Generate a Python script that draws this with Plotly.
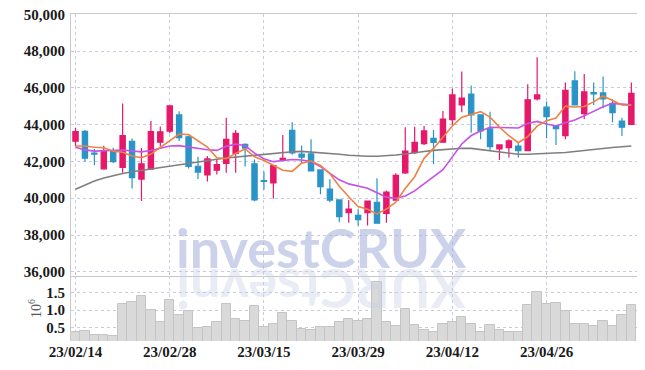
import plotly.graph_objects as go

dates = [
    "23/02/14", "23/02/15", "23/02/16", "23/02/17", "23/02/20", "23/02/21", "23/02/22", "23/02/23", "23/02/24", "23/02/27",
    "23/02/28", "23/03/02", "23/03/03", "23/03/06", "23/03/07", "23/03/08", "23/03/09", "23/03/10", "23/03/13", "23/03/14",
    "23/03/15", "23/03/16", "23/03/17", "23/03/20", "23/03/21", "23/03/22", "23/03/23", "23/03/24", "23/03/27", "23/03/28",
    "23/03/29", "23/03/30", "23/03/31", "23/04/03", "23/04/04", "23/04/05", "23/04/06", "23/04/07", "23/04/10", "23/04/11",
    "23/04/12", "23/04/13", "23/04/14", "23/04/17", "23/04/18", "23/04/19", "23/04/20", "23/04/21", "23/04/24", "23/04/25",
    "23/04/26", "23/04/27", "23/04/28", "23/05/02", "23/05/03", "23/05/04", "23/05/08", "23/05/09", "23/05/10", "23/05/11",
]

open_ = [43100, 43635, 42450, 41600, 42590, 41670, 43090, 41040, 41580, 43050,
         43650, 44530, 43340, 41740, 41270, 41525, 41890, 42435, 42930, 41870,
         40960, 40830, 42090, 43690, 42400, 42410, 41540, 40500, 39910, 39210,
         39070, 39210, 39780, 39180, 39890, 41380, 42480, 42970, 43260, 43050,
         44270, 45075, 45670, 44530, 43770, 42680, 42750, 42840, 42590, 45400,
         44950, 43930, 43400, 46380, 44600, 45745, 45730, 45165, 44200, 44020]
high = [43840, 43710, 42680, 42850, 42750, 45150, 43250, 42730, 44200, 43900,
        45060, 44730, 43400, 42250, 42290, 42140, 44380, 43710, 42990, 42100,
        41450, 41780, 43440, 44130, 42870, 43210, 41560, 41030, 39920, 39900,
        39400, 39870, 41080, 40420, 41360, 43860, 43890, 43930, 43710, 44750,
        45950, 46890, 46130, 44550, 44710, 42920, 43210, 42990, 46200, 47670,
        45260, 44000, 46290, 46910, 46750, 46290, 46620, 45390, 44380, 46290]
low = [42830, 41990, 41790, 41550, 41920, 41380, 40535, 39850, 41550, 42820,
       43530, 43110, 41620, 41050, 40910, 41290, 41380, 41380, 41720, 39840,
       40460, 39970, 42080, 42370, 41900, 41450, 40210, 39780, 38690, 38670,
       38500, 38510, 38620, 38670, 39880, 41320, 42400, 42900, 41850, 43040,
       44000, 44680, 43560, 43210, 42590, 42080, 42210, 42210, 42580, 45310,
       43260, 42900, 43210, 45050, 44310, 45075, 44890, 44130, 43390, 44000]
close = [43620, 42175, 42400, 42590, 41990, 43400, 41125, 41870, 43620, 43610,
         45030, 43300, 41730, 41420, 42140, 41830, 43200, 43530, 42730, 39910,
         40920, 41780, 42170, 42460, 42230, 41480, 40630, 39900, 39000, 39410,
         38830, 39850, 38640, 40340, 41250, 42560, 43040, 43660, 43030, 44300,
         45620, 45440, 44530, 43660, 42810, 42900, 43115, 42590, 45350, 45620,
         44440, 43790, 45870, 45075, 45780, 45675, 45400, 44655, 43860, 45710]

ma5 = [42840, 42840, 42770, 42750, 42560, 42500, 42300, 42200, 42400, 42780,
       43120, 43490, 43460, 43100, 42780, 42200, 42150, 42440, 42680, 42250,
       42050, 41790, 41520, 41460, 41910, 42020, 41790, 41340, 40650, 40080,
       39550, 39400, 39150, 39410, 39780, 40530, 41170, 42170, 42710, 43320,
       43930, 44410, 44580, 44710, 44410, 43870, 43400, 43020, 43350, 43920,
       44220, 44360, 45010, 44960, 44990, 45240, 45560, 45320, 45070, 45060]
ma20 = [42770, 42630, 42560, 42570, 42600, 42620, 42570, 42520, 42600, 42740,
        42840, 42860, 42780, 42720, 42640, 42600, 42820, 42950, 42860, 42450,
        42150, 41990, 42040, 42110, 42080, 42000, 41720, 41360, 41000, 40780,
        40660, 40540, 40300, 40060, 40000, 40120, 40400, 40780, 41170, 41550,
        42250, 42950, 43410, 43660, 43860, 43850, 43850, 43820, 44070, 44180,
        44040, 43930, 44100, 44260, 44480, 44720, 44970, 45160, 45100, 45075]
ma60 = [40490, 40720, 40940, 41100, 41240, 41350, 41440, 41520, 41600, 41680,
        41750, 41830, 41900, 41980, 42050, 42120, 42190, 42240, 42300, 42350,
        42400, 42460, 42500, 42530, 42550, 42520, 42480, 42440, 42390, 42340,
        42300, 42280, 42280, 42300, 42350, 42410, 42490, 42540, 42600, 42650,
        42700, 42720, 42710, 42650, 42600, 42520, 42450, 42390, 42390, 42410,
        42420, 42450, 42490, 42540, 42600, 42650, 42700, 42760, 42800, 42840]

volume = [0.37, 0.40, 0.28, 0.28, 0.25, 1.17, 1.23, 1.40, 1.00, 0.65,
          1.28, 0.85, 0.97, 0.48, 0.53, 0.65, 1.17, 0.74, 0.68, 1.11,
          0.52, 0.62, 0.91, 0.68, 0.45, 0.43, 0.51, 0.53, 0.67, 0.74,
          0.68, 0.74, 1.80, 0.65, 0.54, 1.03, 0.57, 0.43, 0.37, 0.62,
          0.65, 0.80, 0.60, 0.37, 0.57, 0.43, 0.37, 0.37, 1.14, 1.51,
          1.17, 1.20, 0.97, 0.62, 0.62, 0.54, 0.68, 0.54, 0.85, 1.14]

x_tick_labels = ["23/02/14", "23/02/28", "23/03/15", "23/03/29", "23/04/12", "23/04/26"]
price_ticks = [36000, 38000, 40000, 42000, 44000, 46000, 48000, 50000]
volume_ticks = [0.5, 1.0, 1.5]

UP = "#e6186a"
DOWN = "#2b94c7"
GRID = "#c9cade"
FONT = "Liberation Sans Narrow"
TICKFONT = dict(family=FONT, size=15, color="#1a1a1a", weight="bold")

fig = go.Figure()

fig.add_trace(go.Bar(
    x=dates, y=volume, xaxis="x2", yaxis="y2",
    marker=dict(color="#d9d9d9", line=dict(color="#c4c4c4", width=1)),
    showlegend=False,
))

fig.add_trace(go.Scatter(x=dates, y=ma60, mode="lines", line=dict(color="#7f7f7f", width=1.6),
                         showlegend=False))
fig.add_trace(go.Scatter(x=dates, y=ma20, mode="lines", line=dict(color="#c452e6", width=1.6),
                         showlegend=False))
fig.add_trace(go.Scatter(x=dates, y=ma5, mode="lines", line=dict(color="#ee8245", width=1.6),
                         showlegend=False))

fig.add_trace(go.Candlestick(
    x=dates, open=open_, high=high, low=low, close=close,
    increasing=dict(line=dict(color=UP, width=1.2), fillcolor=UP),
    decreasing=dict(line=dict(color=DOWN, width=1.2), fillcolor=DOWN),
    whiskerwidth=0, showlegend=False,
))

split = 65 / 327

fig.update_layout(
    width=637, height=362,
    margin=dict(l=63, r=8, t=6, b=29),
    paper_bgcolor="white", plot_bgcolor="white",
    bargap=0, boxgap=0.2,
    showlegend=False,
    xaxis=dict(
        type="category", domain=[0, 1], anchor="y", range=[-0.48, 59.6],
        rangeslider=dict(visible=False), automargin=False,
        tickmode="array", tickvals=x_tick_labels, showticklabels=False,
        showgrid=True, gridcolor=GRID, griddash="dot", gridwidth=1,
        showline=True, linecolor="#c8c8c8", linewidth=1, mirror=True,
        zeroline=False,
    ),
    yaxis=dict(
        domain=[split, 1], anchor="x", range=[35770, 50020], automargin=False,
        tickmode="array", tickvals=price_ticks, tickformat=",d",
        showgrid=True, gridcolor=GRID, griddash="dot", gridwidth=1,
        showline=True, linecolor="#c8c8c8", linewidth=1, mirror=True,
        zeroline=False, ticks="", ticklabelstandoff=2, ticklabeloverflow="allow",
        tickfont=TICKFONT,
    ),
    xaxis2=dict(
        type="category", domain=[0, 1], anchor="y2", matches="x", automargin=False,
        tickmode="array", tickvals=x_tick_labels, ticktext=x_tick_labels,
        showgrid=True, gridcolor=GRID, griddash="dot", gridwidth=1,
        showline=False, zeroline=False, ticks="", ticklabeloverflow="allow",
        tickfont=TICKFONT,
    ),
    yaxis2=dict(
        domain=[0, split], anchor="x2", range=[0.12, 1.977], automargin=False,
        tickmode="array", tickvals=volume_ticks, tickformat=".1f",
        showgrid=True, gridcolor=GRID, griddash="dot", gridwidth=1,
        showline=True, linecolor="#c8c8c8", linewidth=1,
        zeroline=False, ticks="", ticklabelstandoff=2, ticklabeloverflow="allow",
        tickfont=TICKFONT,
        title=dict(text="10<sup>6</sup>", font=dict(family=FONT, size=14, color="#555"), standoff=1),
    ),
    annotations=[
        dict(text="investCRUX", xref="paper", yref="paper", x=0.442, y=(341 - 247) / 327,
             xanchor="center", yanchor="middle", showarrow=False,
             font=dict(family="Lato", size=54, color="rgba(170,180,218,0.6)", weight="bold")),
        dict(text="XURCtsevni", xref="paper", yref="paper", x=0.442, y=(341 - 290) / 327,
             xanchor="center", yanchor="middle", showarrow=False, textangle=180,
             font=dict(family="Lato", size=54, color="rgba(200,206,230,0.4)", weight="bold")),
    ],
)

fig.write_html("out.html")
